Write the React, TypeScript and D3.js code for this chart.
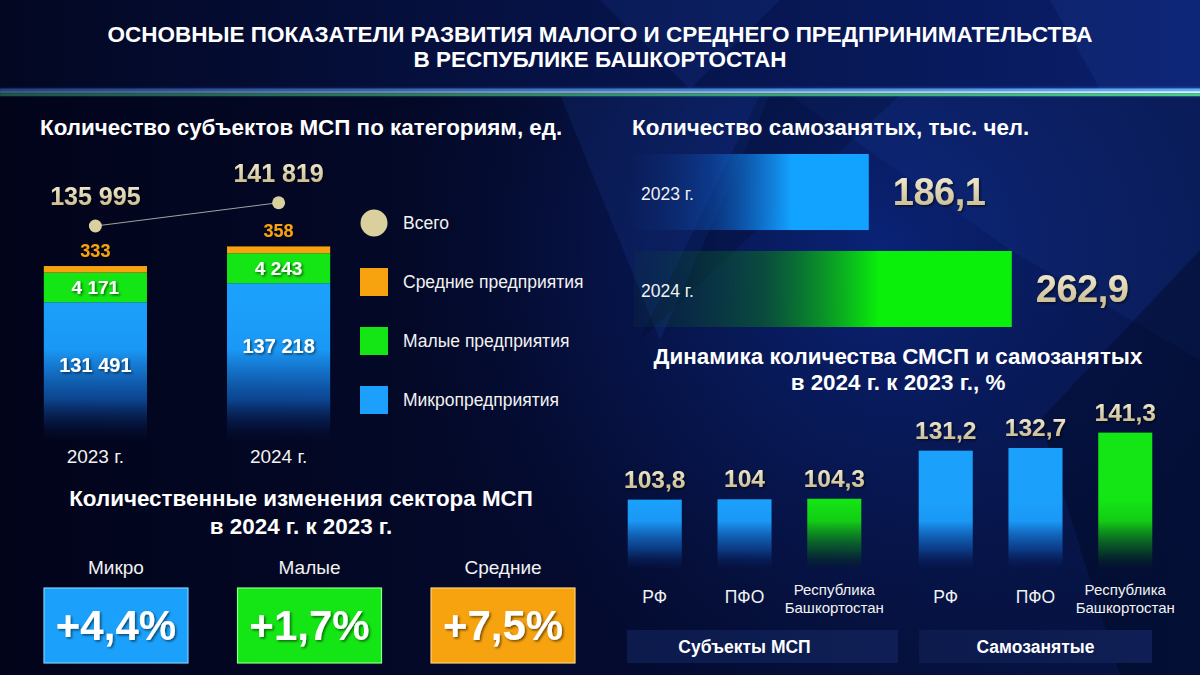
import React from "react";
import * as d3 from "d3";

// --- data ---
const years = ["2023 г.", "2024 г."];
const microFirms = [131491, 137218];
const smallFirms = [4171, 4243];
const mediumFirms = [333, 358];
const totalFirms = [135995, 141819];

const legendLabels = ["Всего", "Средние предприятия", "Малые предприятия", "Микропредприятия"];

const selfEmployed = [186.1, 262.9];

const dynamicGroups = ["Субъекты МСП", "Самозанятые"];
const regions = ["РФ", "ПФО", "Республика Башкортостан"];
const smspGrowth = [103.8, 104, 104.3];
const selfGrowth = [131.2, 132.7, 141.3];

const sizeCategories = ["Микро", "Малые", "Средние"];
const sizeChanges = [4.4, 1.7, 7.5];

// --- look ---
const W = 1200;
const H = 675;
const FONT = "'Liberation Sans', Arial, sans-serif";
const BLUE = "#1ba1fb";
const GREEN = "#14e514";
const ORANGE = "#f7a30f";
const BEIGE = "#d9d09e";
const TEXT = "#f2f2f2";

const ru = d3.formatLocale({ decimal: ",", thousands: " ", grouping: [3], currency: ["", ""] });
const fmtInt = ru.format(",d");
const fmtDec = ru.format(".1f");
const fmtTrim = ru.format("~f");

const App = () => {
  // stacked bars (left)
  const xYear = d3.scaleBand<string>().domain(years).range([20, 354]).paddingInner(0.437).paddingOuter(0.13);
  const yMicro = d3.scaleLinear().domain([90000, 140000]).range([440, 274]);
  const ySeg = d3.scalePow().exponent(0.6).domain([0, d3.max(smallFirms)!]).range([0, 30]);
  const yTotal = d3.scaleLinear().domain([130000, 145000]).range([250, 190]);

  const stacks = years.map((yr, i) => {
    const x = xYear(yr)!;
    const bottom = yMicro.range()[0];
    const microTop = yMicro(microFirms[i]);
    const smallTop = microTop - ySeg(smallFirms[i]);
    const medTop = smallTop - ySeg(mediumFirms[i]);
    return { yr, i, x, cx: x + xYear.bandwidth() / 2, bottom, microTop, smallTop, medTop, dotY: yTotal(totalFirms[i]) };
  });
  const totalLine = d3.line<(typeof stacks)[number]>().x((d) => d.cx).y((d) => d.dotY)(stacks)!;

  const yLegend = d3.scalePoint<string>().domain(legendLabels).range([223, 400]);
  const legendColor = d3.scaleOrdinal<string, string>().domain(legendLabels).range([BEIGE, ORANGE, GREEN, BLUE]);

  // self-employed horizontal bars
  const yHBar = d3.scaleBand<string>().domain(years).range([154, 327]).paddingInner(0.216);
  const xHBar = d3.scaleLinear().domain([60, 270]).range([634, 1025]);
  const hBarFill = ["url(#hBlue)", "url(#hGreen)"];

  // growth bars
  const xGroup = d3.scaleBand<string>().domain(dynamicGroups).range([613, 1167]).paddingInner(0.096);
  const xRegion = d3.scaleBand<string>().domain(regions).range([0, xGroup.bandwidth()]).paddingInner(0.398).paddingOuter(0.164);
  const yGrowth = d3.scaleLinear().domain([65, 145]).range([569, 426]);
  const growthSeries = [smspGrowth, selfGrowth];

  // size change boxes
  const xSize = d3.scaleBand<string>().domain(sizeCategories).range([20, 599]).paddingInner(0.256).paddingOuter(0.124);
  const sizeColor = [BLUE, GREEN, ORANGE];
  const sizeStroke = ["#7fd0ff", "#8cff8c", "#ffd27a"];

  return (
    <div style={{ position: "fixed", left: 0, top: 0, width: W, height: H, background: "#03051c" }}>
      <svg width={W} height={H} viewBox={`0 0 ${W} ${H}`} style={{ display: "block", fontFamily: FONT }}>
        <defs>
          <linearGradient id="bgBase" x1="0" y1="0" x2="1" y2="0">
            <stop offset="0" stopColor="#02041a" />
            <stop offset="0.45" stopColor="#040a2c" />
            <stop offset="1" stopColor="#061446" />
          </linearGradient>
          <linearGradient id="bgHead" x1="0" y1="0" x2="1" y2="0">
            <stop offset="0" stopColor="#030722" />
            <stop offset="0.5" stopColor="#061348" />
            <stop offset="1" stopColor="#0a1f6c" />
          </linearGradient>
          <radialGradient id="bgGlow" cx="880" cy="250" r="480" gradientUnits="userSpaceOnUse">
            <stop offset="0" stopColor="#0c2a8c" stopOpacity="0.75" />
            <stop offset="0.6" stopColor="#0a1f6a" stopOpacity="0.35" />
            <stop offset="1" stopColor="#061446" stopOpacity="0" />
          </radialGradient>
          <linearGradient id="lineBlue" x1="0" y1="0" x2="1" y2="0">
            <stop offset="0" stopColor="#3a78d8" stopOpacity="0.45" />
            <stop offset="1" stopColor="#5fb0ff" stopOpacity="1" />
          </linearGradient>
          <linearGradient id="lineWhite" x1="0" y1="0" x2="1" y2="0">
            <stop offset="0" stopColor="#9fb8e0" stopOpacity="0.4" />
            <stop offset="1" stopColor="#ffffff" stopOpacity="1" />
          </linearGradient>
          <linearGradient id="lineGreen" x1="0" y1="0" x2="1" y2="0">
            <stop offset="0" stopColor="#2f8a55" stopOpacity="0.55" />
            <stop offset="1" stopColor="#47d08a" stopOpacity="1" />
          </linearGradient>
          <linearGradient id="beige" x1="0" y1="0" x2="0" y2="1">
            <stop offset="0" stopColor="#f6f0d8" />
            <stop offset="1" stopColor="#c5b585" />
          </linearGradient>
          <linearGradient id="stackBlue" gradientUnits="userSpaceOnUse" x1="0" y1="300" x2="0" y2="442">
            <stop offset="0" stopColor={BLUE} />
            <stop offset="0.35" stopColor="#1a98f5" />
            <stop offset="0.7" stopColor="#1060c0" stopOpacity="0.7" />
            <stop offset="1" stopColor="#071650" stopOpacity="0" />
          </linearGradient>
          <linearGradient id="vBlue" gradientUnits="userSpaceOnUse" x1="0" y1="500" x2="0" y2="571">
            <stop offset="0" stopColor={BLUE} />
            <stop offset="0.3" stopColor="#1a98f5" />
            <stop offset="0.7" stopColor="#0f55b0" stopOpacity="0.6" />
            <stop offset="1" stopColor="#071650" stopOpacity="0" />
          </linearGradient>
          <linearGradient id="vGreen" gradientUnits="userSpaceOnUse" x1="0" y1="500" x2="0" y2="571">
            <stop offset="0" stopColor={GREEN} />
            <stop offset="0.3" stopColor="#12cc14" />
            <stop offset="0.7" stopColor="#0a6a20" stopOpacity="0.6" />
            <stop offset="1" stopColor="#04200f" stopOpacity="0" />
          </linearGradient>
          <linearGradient id="hBlue" x1="0" y1="0" x2="1" y2="0">
            <stop offset="0" stopColor="#0a2a70" stopOpacity="0.1" />
            <stop offset="0.33" stopColor="#1060c8" stopOpacity="0.4" />
            <stop offset="0.67" stopColor="#12a2ff" />
            <stop offset="1" stopColor="#12a2ff" />
          </linearGradient>
          <linearGradient id="hGreen" x1="0" y1="0" x2="1" y2="0">
            <stop offset="0" stopColor="#0a4030" stopOpacity="0.15" />
            <stop offset="0.34" stopColor="#0b7a1e" stopOpacity="0.5" />
            <stop offset="0.65" stopColor="#0af00a" />
            <stop offset="1" stopColor="#0af00a" />
          </linearGradient>
          <linearGradient id="bandFill" x1="0" y1="0" x2="1" y2="0">
            <stop offset="0" stopColor="#0c1a4c" />
            <stop offset="1" stopColor="#0f1f55" />
          </linearGradient>
          <filter id="shadow" x="-20%" y="-20%" width="140%" height="140%">
            <feDropShadow dx="1.5" dy="1.5" stdDeviation="1.2" floodColor="#000" floodOpacity="0.55" />
          </filter>
          <filter id="glow" x="-5%" y="-200%" width="110%" height="500%">
            <feGaussianBlur stdDeviation="1.6" />
          </filter>
        </defs>

        {/* background */}
        <rect width={W} height={H} fill="url(#bgBase)" />
        <rect width={W} height={H} fill="url(#bgGlow)" />
        <polygon points="560,95 770,95 660,340" fill="#2a5ad0" opacity="0.13" />
        <polygon points="790,95 1200,95 1200,360 1010,250" fill="#2a5ad0" opacity="0.1" />
        <polygon points="640,340 760,95 900,95" fill="#010616" opacity="0.2" />
        <polygon points="1040,420 1200,250 1200,675 1120,675" fill="#010616" opacity="0.35" />
        <rect width={W} height={89} fill="url(#bgHead)" />
        <polygon points="600,0 780,0 690,89" fill="#2a5ad0" opacity="0.12" />
        <polygon points="1050,0 1200,0 1200,89 1100,89" fill="#3a6ae0" opacity="0.1" />

        {/* glowing rule under header */}
        <g filter="url(#glow)" opacity="0.8">
          <rect x={0} y={88} width={W} height={8} fill="url(#lineBlue)" opacity="0.5" />
        </g>
        <rect x={0} y={88.5} width={W} height={3} fill="url(#lineBlue)" />
        <rect x={0} y={91.3} width={W} height={1.6} fill="url(#lineWhite)" />
        <rect x={0} y={93.2} width={W} height={3} fill="url(#lineGreen)" />

        {/* header */}
        <g fill="#ffffff" fontWeight="bold" fontSize={22.5} textAnchor="middle">
          <text x={600} y={42}>ОСНОВНЫЕ ПОКАЗАТЕЛИ РАЗВИТИЯ МАЛОГО И СРЕДНЕГО ПРЕДПРИНИМАТЕЛЬСТВА</text>
          <text x={600} y={67}>В РЕСПУБЛИКЕ БАШКОРТОСТАН</text>
        </g>

        {/* section titles */}
        <g fill="#ffffff" fontWeight="bold" fontSize={22.4}>
          <text x={40} y={135}>Количество субъектов МСП по категориям, ед.</text>
          <text x={632} y={135}>Количество самозанятых, тыс. чел.</text>
          <text x={898} y={364} textAnchor="middle">Динамика количества СМСП и самозанятых</text>
          <text x={898} y={390} textAnchor="middle">в 2024 г. к 2023 г., %</text>
          <text x={301} y={506} textAnchor="middle">Количественные изменения сектора МСП</text>
          <text x={301} y={534} textAnchor="middle">в 2024 г. к 2023 г.</text>
        </g>

        {/* stacked bars */}
        <path d={totalLine} fill="none" stroke="#c8c8c8" strokeWidth={1} opacity={0.8} />
        {stacks.map((s) => (
          <g key={s.yr}>
            <rect x={s.x} y={s.microTop} width={xYear.bandwidth()} height={s.bottom - s.microTop} fill="url(#stackBlue)" />
            <rect x={s.x} y={s.smallTop} width={xYear.bandwidth()} height={s.microTop - s.smallTop} fill={GREEN} />
            <rect x={s.x} y={s.medTop} width={xYear.bandwidth()} height={s.smallTop - s.medTop} fill={ORANGE} />
            <circle cx={s.cx} cy={s.dotY} r={6.5} fill={BEIGE} />
            <g textAnchor="middle" fontWeight="bold" filter="url(#shadow)">
              <text x={s.cx} y={s.dotY - 21} fontSize={25} fill="url(#beige)">{fmtInt(totalFirms[s.i])}</text>
              <text x={s.cx} y={s.medTop - 9} fontSize={18} fill={ORANGE}>{fmtInt(mediumFirms[s.i])}</text>
              <text x={s.cx} y={(s.smallTop + s.microTop) / 2 + 6.5} fontSize={19} fill="#ffffff">{fmtInt(smallFirms[s.i])}</text>
              <text x={s.cx} y={s.microTop + 70} fontSize={20} fill="#ffffff">{fmtInt(microFirms[s.i])}</text>
            </g>
            <text x={s.cx} y={463} textAnchor="middle" fontSize={19} fill={TEXT}>{s.yr}</text>
          </g>
        ))}

        {/* legend */}
        {legendLabels.map((lab, i) => {
          const cy = yLegend(lab)!;
          return (
            <g key={lab}>
              {i === 0 ? (
                <circle cx={374} cy={cy} r={13.5} fill={legendColor(lab)} />
              ) : (
                <rect x={360} y={cy - 14} width={28} height={28} fill={legendColor(lab)} />
              )}
              <text x={403} y={cy + 6} fontSize={17.5} fill={TEXT}>{lab}</text>
            </g>
          );
        })}

        {/* self-employed bars */}
        {years.map((yr, i) => {
          const y = yHBar(yr)!;
          const cy = y + yHBar.bandwidth() / 2;
          const x0 = xHBar.range()[0];
          const x1 = xHBar(selfEmployed[i]);
          return (
            <g key={yr}>
              <rect x={x0} y={y} width={x1 - x0} height={yHBar.bandwidth()} fill={hBarFill[i]} />
              <text x={641} y={cy + 8} fontSize={17.5} fill={TEXT}>{yr}</text>
              <text x={x1 + 24} y={cy + 13} fontSize={38} fontWeight="bold" fill="url(#beige)" letterSpacing={-0.5} filter="url(#shadow)">
                {fmtDec(selfEmployed[i])}
              </text>
            </g>
          );
        })}

        {/* growth bars */}
        {dynamicGroups.map((g, gi) => {
          const gx = xGroup(g)!;
          const boxX = gx + (gi === 0 ? 14 : 15);
          const boxW = gi === 0 ? xGroup(dynamicGroups[1])! - 6 - boxX : gx + xGroup.bandwidth() - 15 - boxX;
          const barsMid = gx + (xRegion(regions[0])! + xRegion(regions[regions.length - 1])! + xRegion.bandwidth()) / 2;
          return (
            <g key={g}>
              {regions.map((r, ri) => {
                const v = growthSeries[gi][ri];
                const x = gx + xRegion(r)!;
                const cx = x + xRegion.bandwidth() / 2;
                const y = yGrowth(v);
                const isRb = ri === regions.length - 1;
                const words = r.split(" ");
                return (
                  <g key={r}>
                    <rect x={x} y={y} width={xRegion.bandwidth()} height={yGrowth.range()[0] - y} fill={isRb ? "url(#vGreen)" : "url(#vBlue)"} />
                    <text x={cx} y={y - 12} textAnchor="middle" fontSize={24.5} fontWeight="bold" fill="url(#beige)" filter="url(#shadow)">
                      {fmtTrim(v)}
                    </text>
                    {words.length > 1 ? (
                      <text textAnchor="middle" fontSize={15} fill={TEXT}>
                        <tspan x={cx} y={595}>{words[0]}</tspan>
                        <tspan x={cx} y={613}>{words[1]}</tspan>
                      </text>
                    ) : (
                      <text x={cx} y={603} textAnchor="middle" fontSize={17.5} fill={TEXT}>{r}</text>
                    )}
                  </g>
                );
              })}
              <rect x={boxX} y={630} width={boxW} height={33} fill="url(#bandFill)" />
              <text x={barsMid} y={653} textAnchor="middle" fontSize={17.5} fontWeight="bold" fill="#ffffff">{g}</text>
            </g>
          );
        })}

        {/* size change boxes */}
        {sizeCategories.map((c, i) => {
          const x = xSize(c)!;
          const cx = x + xSize.bandwidth() / 2;
          return (
            <g key={c}>
              <text x={cx} y={574} textAnchor="middle" fontSize={19} fill={TEXT}>{c}</text>
              <rect x={x} y={588} width={xSize.bandwidth()} height={75} fill={sizeColor[i]} stroke={sizeStroke[i]} strokeWidth={1.2} />
              <text x={cx} y={640} textAnchor="middle" fontSize={42} fontWeight="bold" fill="#ffffff" filter="url(#shadow)">
                {ru.format("+.1f")(sizeChanges[i])}%
              </text>
            </g>
          );
        })}
      </svg>
    </div>
  );
};

export default App;
